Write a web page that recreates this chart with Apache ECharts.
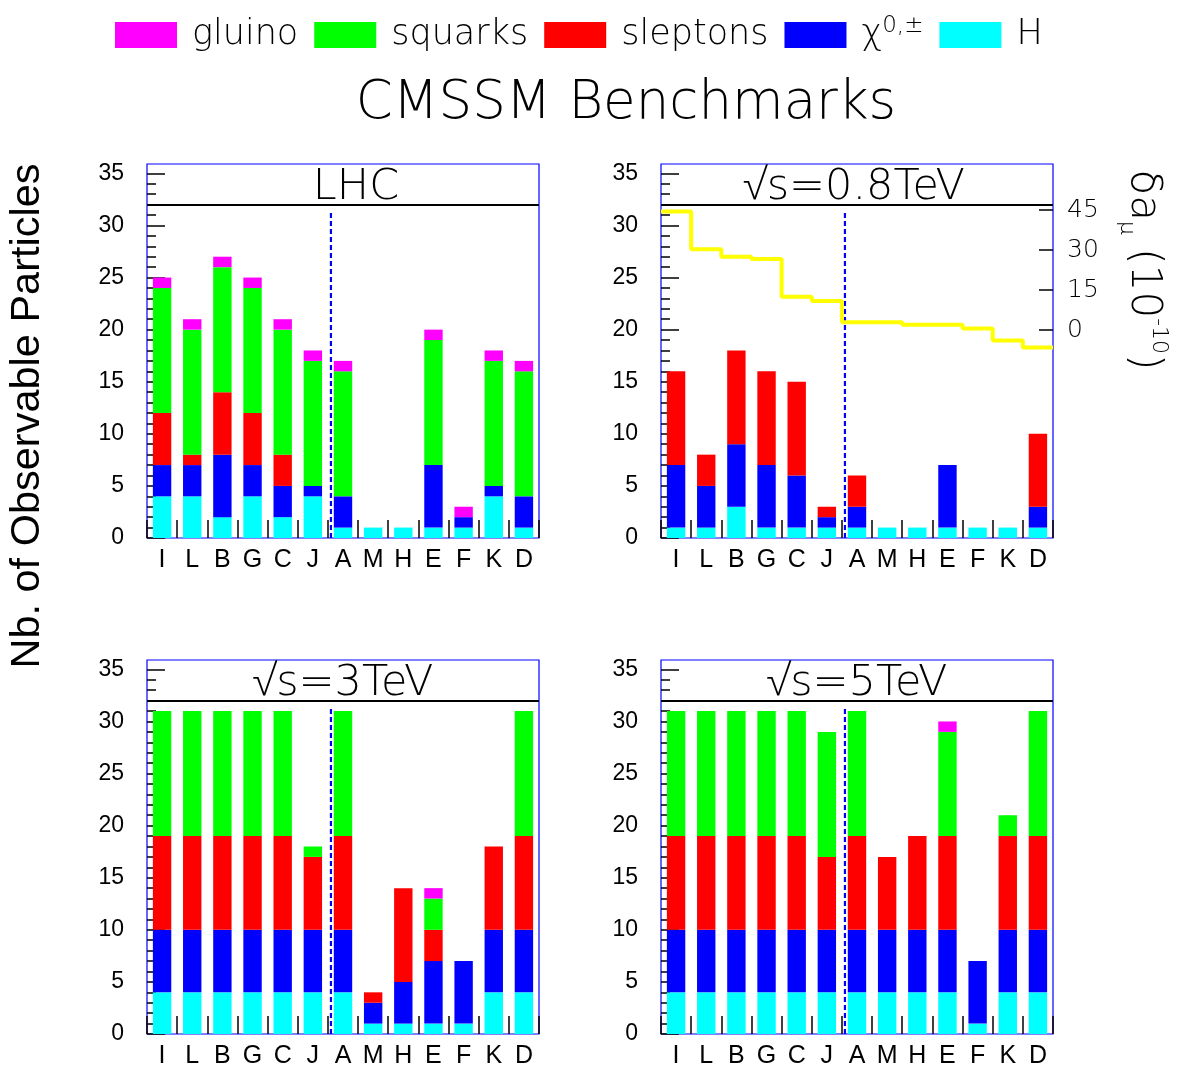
<!DOCTYPE html>
<html><head><meta charset="utf-8">
<script src="https://cdn.jsdelivr.net/npm/echarts@6/dist/echarts.min.js"></script>
<style>html,body{margin:0;padding:0;background:#fff}#c{width:1178px;height:1072px}</style>
</head><body><div id="c"></div>
<script>
// ---------------- data ----------------
const categories = ['I','L','B','G','C','J','A','M','H','E','F','K','D'];
const panelTitles = ['LHC','√s=0.8TeV','√s=3TeV','√s=5TeV'];
const yTicks = [0,5,10,15,20,25,30,35];
const rightTicks = [0,15,30,45];

// LHC
const lhcH    = [4,4,2,4,2,4,1,1,1,1,1,4,1];
const lhcChi  = [3,3,6,3,3,1,3,0,0,6,1,1,3];
const lhcSlep = [5,1,6,5,3,0,0,0,0,0,0,0,0];
const lhcSq   = [12,12,12,12,12,12,12,0,0,12,0,12,12];
const lhcGl   = [1,1,1,1,1,1,1,0,0,1,1,1,1];
// sqrt(s) = 0.8 TeV
const tev08H    = [1,1,3,1,1,1,1,1,1,1,1,1,1];
const tev08Chi  = [6,4,6,6,5,1,2,0,0,6,0,0,2];
const tev08Slep = [9,3,9,9,9,1,3,0,0,0,0,0,7];
const tev08Sq   = [0,0,0,0,0,0,0,0,0,0,0,0,0];
const tev08Gl   = [0,0,0,0,0,0,0,0,0,0,0,0,0];
// sqrt(s) = 3 TeV
const tev3H    = [4,4,4,4,4,4,4,1,1,1,1,4,4];
const tev3Chi  = [6,6,6,6,6,6,6,2,4,6,6,6,6];
const tev3Slep = [9,9,9,9,9,7,9,1,9,3,0,8,9];
const tev3Sq   = [12,12,12,12,12,1,12,0,0,3,0,0,12];
const tev3Gl   = [0,0,0,0,0,0,0,0,0,1,0,0,0];
// sqrt(s) = 5 TeV
const tev5H    = [4,4,4,4,4,4,4,4,4,4,1,4,4];
const tev5Chi  = [6,6,6,6,6,6,6,6,6,6,6,6,6];
const tev5Slep = [9,9,9,9,9,7,9,7,9,9,0,9,9];
const tev5Sq   = [12,12,12,12,12,12,12,0,0,10,0,2,12];
const tev5Gl   = [0,0,0,0,0,0,0,0,0,1,0,0,0];
// delta a_mu (10^-10), shown in the 0.8 TeV panel
const deltaAmu = [44.4,30.3,27.5,26.6,12.5,10.9,2.9,2.9,2.0,2.0,0.6,-3.9,-6.6];
const separatorPos = 6.1;
const bandLine = 32;

// ---------------- chart ----------------
const panels = [
  {H: lhcH, chi: lhcChi, sl: lhcSlep, sq: lhcSq, gl: lhcGl},
  {H: tev08H, chi: tev08Chi, sl: tev08Slep, sq: tev08Sq, gl: tev08Gl},
  {H: tev3H, chi: tev3Chi, sl: tev3Slep, sq: tev3Sq, gl: tev3Gl},
  {H: tev5H, chi: tev5Chi, sl: tev5Slep, sq: tev5Sq, gl: tev5Gl}
];
const gridPos = [[147,164],[661,164],[147,660],[661,660]];
const titleShift = [13, -3, 0, 0];
const GW = 392, GH = 374, YMAX = 35.9;
const colors = {gluino:'#ff00ff', squarks:'#00ff00', sleptons:'#ff0000', chi:'#0000ff', H:'#00ffff'};
const thin = "'DejaVu Sans', 'Open Sans', sans-serif";
const arial = "'Liberation Sans', Arial, sans-serif";

const grid = [], xAxis = [], yAxis = [], series = [];
const titles = [{
  text: 'CMSSM Benchmarks', left: 626, top: 78, textAlign: 'center', padding: 0,
  textStyle: {fontFamily: thin, fontSize: 53, fontWeight: 200, color: '#000'}
}];
const minorTicks = [];
for (let v = 0; v <= 35; v++) minorTicks.push(v);

panels.forEach((p, i) => {
  const [gl, gt] = gridPos[i];
  grid.push({left: gl, top: gt, width: GW, height: GH, show: true,
    borderColor: '#0000ff', borderWidth: 1.2, backgroundColor: 'transparent', containLabel: false});
  titles.push({text: panelTitles[i], left: gl + GW/2 + titleShift[i], top: gt + 2, textAlign: 'center', padding: 0,
    textStyle: {fontFamily: thin, fontSize: 43, fontWeight: 200, color: '#000'}});
  xAxis.push({type: 'category', gridIndex: i, data: categories, boundaryGap: true,
    axisLine: {show: false},
    axisTick: {show: true, inside: true, length: 18, alignWithLabel: false, lineStyle: {color: '#000', width: 1.5}},
    axisLabel: {fontFamily: arial, fontSize: 25, color: '#000', margin: 10, interval: 0},
    splitLine: {show: false}});
  xAxis.push({type: 'value', gridIndex: i, min: 0, max: categories.length, show: false});
  yAxis.push({type: 'value', gridIndex: i, min: 0, max: YMAX, position: 'left',
    axisLine: {show: false},
    axisTick: {show: true, inside: true, length: 18, customValues: yTicks, lineStyle: {color: '#000', width: 1.5}},
    axisLabel: {customValues: yTicks, fontFamily: arial, fontSize: 23, color: '#000', margin: 23},
    splitLine: {show: false}});
  yAxis.push({type: 'value', gridIndex: i, min: 0, max: YMAX, position: 'left',
    axisLine: {show: false},
    axisTick: {show: true, inside: true, length: 9, customValues: minorTicks, lineStyle: {color: '#000', width: 1.5}},
    axisLabel: {show: false}, splitLine: {show: false}});

  const stackDefs = [['H', p.H], ['chi', p.chi], ['sleptons', p.sl], ['squarks', p.sq], ['gluino', p.gl]];
  stackDefs.forEach(([name, vals]) => {
    series.push({type: 'bar', name: name, stack: 'p' + i, xAxisIndex: 2*i, yAxisIndex: 2*i,
      data: vals, barWidth: '61%', itemStyle: {color: colors[name]}, silent: true});
  });
  // dashed separator + band line
  series.push({type: 'line', xAxisIndex: 2*i+1, yAxisIndex: 2*i, symbol: 'none', silent: true,
    data: [[separatorPos, 0], [separatorPos, bandLine - 0.7]],
    lineStyle: {color: '#0000ff', width: 2.2, type: [5, 3]},
    markLine: {symbol: 'none', silent: true, label: {show: false},
      lineStyle: {color: '#000', width: 2, type: 'solid'},
      data: [{yAxis: bandLine}]}
  });
});

// right axis (delta a_mu) in 0.8 TeV panel
yAxis.push({type: 'value', gridIndex: 1, min: -78, max: 62.25, position: 'right',
  axisLine: {show: false},
  axisTick: {show: true, inside: true, length: 14, customValues: rightTicks, lineStyle: {color: '#000', width: 1.5}},
  axisLabel: {customValues: rightTicks, fontFamily: thin, fontWeight: 200, fontSize: 25, color: '#000', margin: 14},
  splitLine: {show: false}});
const stepData = deltaAmu.map((v, k) => [k, v]);
stepData.push([categories.length, deltaAmu[deltaAmu.length - 1]]);
series.push({type: 'line', name: 'damu', xAxisIndex: 3, yAxisIndex: 8, step: 'end', symbol: 'none', silent: true,
  data: stepData, lineStyle: {color: '#ffff00', width: 4}, z: 3});

const option = {
  animation: false,
  backgroundColor: '#fff',
  title: titles,
  legend: {
    left: 115, top: 15, padding: 0, itemWidth: 62, itemHeight: 26, itemGap: 16, icon: 'rect',
    selectedMode: false,
    data: ['gluino', 'squarks', 'sleptons', 'chi', 'H'],
    formatter: n => n === 'chi' ? '{g|χ}{s|0,±}' : n,
    textStyle: {fontFamily: thin, fontWeight: 200, fontSize: 35, color: '#000', padding: [0, 0, 0, 10], lineHeight: 40,
      rich: {
        g: {fontFamily: thin, fontWeight: 200, fontSize: 35, color: '#000', lineHeight: 40, verticalAlign: 'middle'},
        s: {fontFamily: thin, fontWeight: 200, fontSize: 23, color: '#000', lineHeight: 40, verticalAlign: 'top'}
      }}
  },
  grid, xAxis, yAxis, series,
  graphic: [
    {type: 'text', x: 28, y: 416, rotation: Math.PI/2,
      style: {text: 'Nb. of Observable Particles', fontFamily: arial, fontSize: 41.5, fill: '#000',
        textAlign: 'center', textVerticalAlign: 'middle', align: 'center', verticalAlign: 'middle'}},
    {type: 'text', x: 1143, y: 270, rotation: -Math.PI/2,
      style: {text: '{a|δa}{m|μ}{a| (10}{s|-10}{a|)}', fill: '#000',
        textAlign: 'center', textVerticalAlign: 'middle', align: 'center', verticalAlign: 'middle',
        rich: {
          a: {fontFamily: thin, fontWeight: 200, fontSize: 42, lineHeight: 54, verticalAlign: 'middle', fill: '#000'},
          m: {fontFamily: thin, fontWeight: 200, fontSize: 22, lineHeight: 54, verticalAlign: 'bottom', fill: '#000'},
          s: {fontFamily: thin, fontWeight: 200, fontSize: 22, lineHeight: 54, verticalAlign: 'top', fill: '#000'}
        }}}
  ]
};
const chart = echarts.init(document.getElementById('c'));
chart.setOption(option);
</script></body></html>
